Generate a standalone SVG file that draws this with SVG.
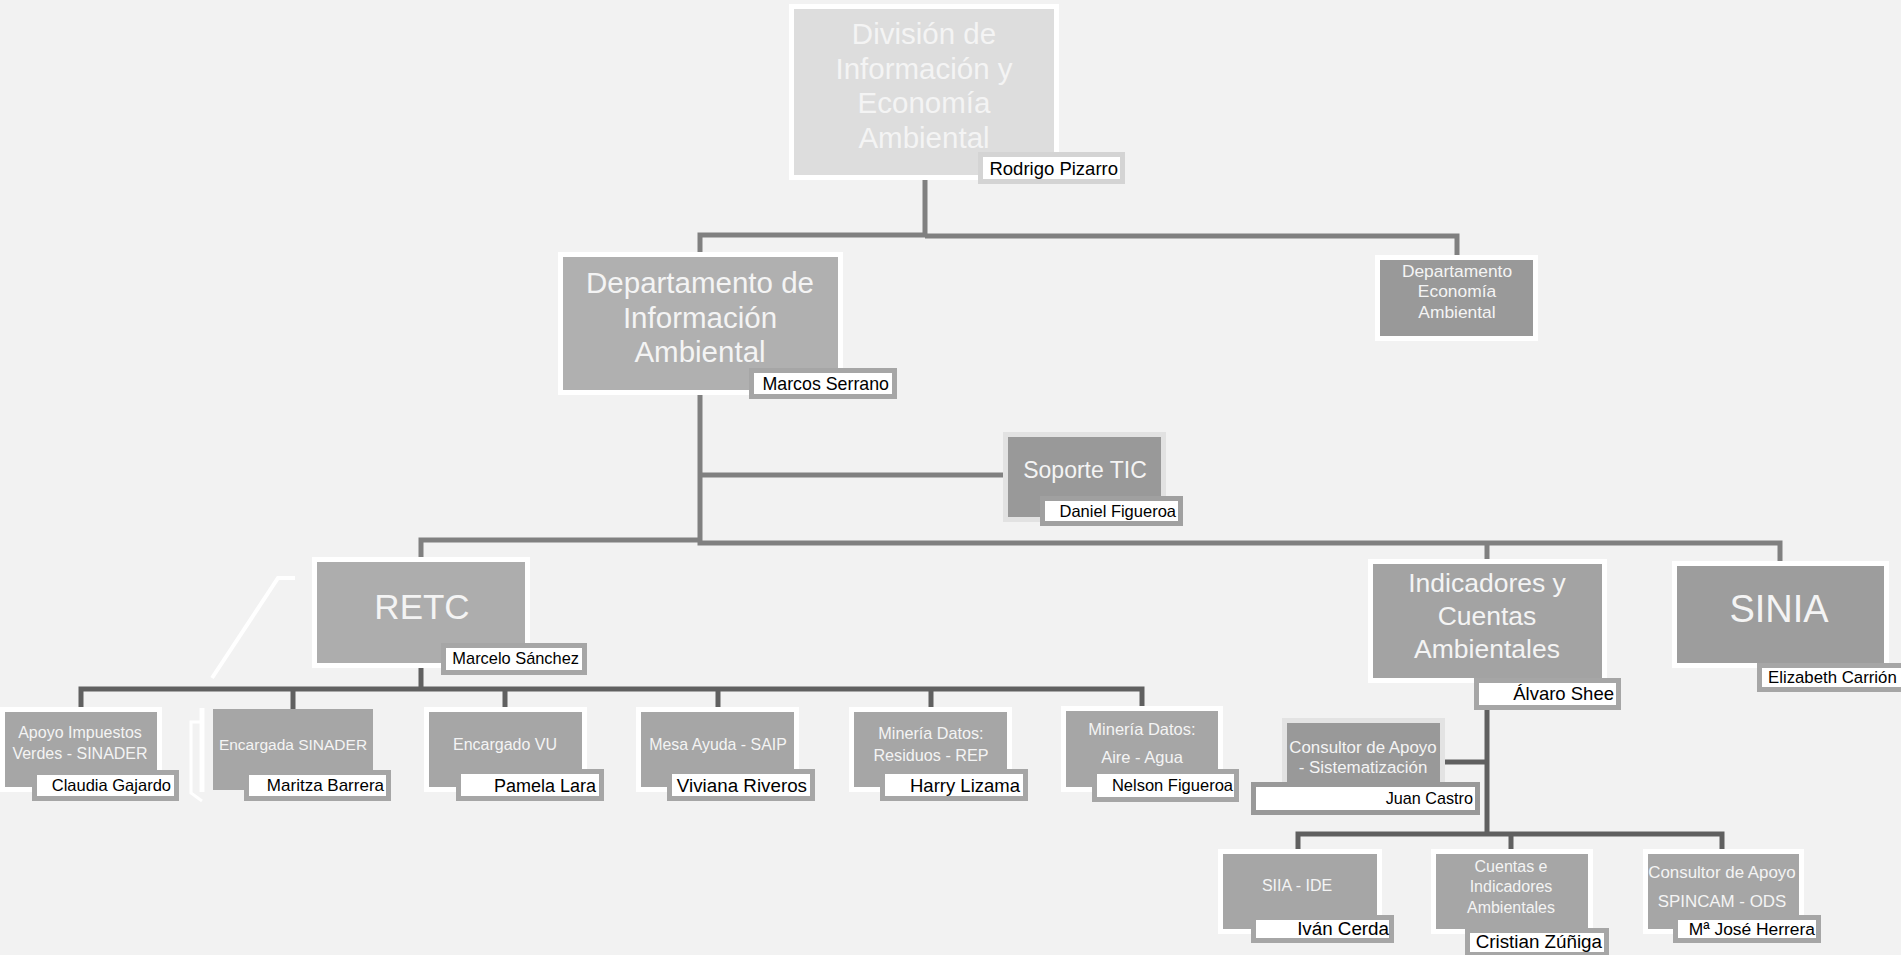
<svg xmlns="http://www.w3.org/2000/svg" width="1901" height="955" viewBox="0 0 1901 955">
<style>
text{font-family:"Liberation Sans",Arial,sans-serif}
.t{fill:#f4f4f4;text-anchor:middle}
.n{fill:#000;text-anchor:end}
.box{stroke:#fff;stroke-width:5}
.nb{fill:#fff;stroke:#a6a6a6;stroke-width:5}
.c1{fill:none;stroke:#808080;stroke-width:5}
.c2{fill:none;stroke:#606060;stroke-width:5}
.leaf{fill:#a6a6a6}
</style>
<rect width="1901" height="955" fill="#f2f2f2"/>
<g id="connectors">
<path class="c1" d="M925,179 V235 H700 V253 M925,236 H1457 V256"/>
<path class="c1" d="M700,395 V543 H1487 V560 M1487,543 H1780 V562 M700,540 H421 V558 M700,475 H1004"/>
<path class="c2" d="M421,668 V689 M81,708 V689 H1142 V708 M293,689 V709 M505,689 V708 M718,689 V708 M931,689 V708"/>
<path class="c2" d="M1487,710 V834 M1445,762 H1487 M1298,850 V834 H1722 V850 M1511,834 V850"/>
</g>
<g id="division">
<rect class="box" x="791.5" y="6.5" width="265" height="171" fill="#dddddd"/>
<g class="t" font-size="29.5"><text x="924" y="44">División de</text><text x="924" y="79">Información y</text><text x="924" y="113">Economía</text><text x="924" y="148">Ambiental</text></g>
<rect class="nb" x="980.5" y="154.5" width="142" height="27" style="stroke:#d4d4d4"/>
<text class="n" x="1118" y="175" font-size="18.5">Rodrigo Pizarro</text>
</g>
<g id="dep-info">
<rect class="box" x="560.5" y="254.5" width="280" height="138" fill="#b0b0b0"/>
<g class="t" font-size="29.5"><text x="700" y="293">Departamento de</text><text x="700" y="328">Información</text><text x="700" y="362">Ambiental</text></g>
<rect class="nb" x="751.5" y="370.5" width="143" height="26"/>
<text class="n" x="889" y="390" font-size="17.8">Marcos Serrano</text>
</g>
<g id="dep-economia">
<rect class="box" x="1377.5" y="257.5" width="158" height="81" fill="#999"/>
<g class="t" font-size="17.4"><text x="1457" y="277">Departamento</text><text x="1457" y="297">Economía</text><text x="1457" y="318">Ambiental</text></g>
</g>
<g id="soporte-tic">
<rect x="1005.5" y="434.5" width="158" height="85" fill="#999" stroke="#e2e2e2" stroke-width="5"/>
<text class="t" x="1085" y="478" font-size="23">Soporte TIC</text>
<rect class="nb" x="1042.5" y="498.5" width="138" height="25" style="stroke:#a0a0a0"/>
<text class="n" x="1176" y="517" font-size="16.5">Daniel Figueroa</text>
</g>
<g id="retc">
<rect class="box" x="314.5" y="559.5" width="213" height="106" fill="#adadad"/>
<text class="t" x="422" y="619" font-size="35">RETC</text>
<rect class="nb" x="443.5" y="645.5" width="141" height="27"/>
<text class="n" x="579" y="664" font-size="16.4">Marcelo Sánchez</text>
</g>
<g id="indicadores">
<rect class="box" x="1370.5" y="561.5" width="234" height="119" fill="#a3a3a3"/>
<g class="t" font-size="26.5"><text x="1487" y="592">Indicadores y</text><text x="1487" y="625">Cuentas</text><text x="1487" y="658">Ambientales</text></g>
<rect class="nb" x="1476.5" y="680.5" width="142" height="27"/>
<text class="n" x="1614" y="700" font-size="18.5">Álvaro Shee</text>
</g>
<g id="sinia">
<rect class="box" x="1674.5" y="563.5" width="212" height="102" fill="#9d9d9d"/>
<text class="t" x="1779" y="622" font-size="38">SINIA</text>
<rect class="nb" x="1759.5" y="665.5" width="145" height="24"/>
<text x="1768" y="683" font-size="16.8">Elizabeth Carrión</text>
</g>
<g id="decor" fill="none" stroke="#fff">
<path d="M212,678 L278,578 H295" stroke-width="4"/>
<path d="M202,708 V792" stroke-width="5"/>
<path d="M200,722 H191 V793 L202,801" stroke-width="3"/>
</g>
<g id="apoyo-impuestos">
<rect class="box leaf" x="2.5" y="709.5" width="157" height="80"/>
<g class="t" font-size="16"><text x="80" y="738">Apoyo Impuestos</text><text x="80" y="759">Verdes - SINADER</text></g>
<rect class="nb" x="34.5" y="772.5" width="142" height="26"/>
<text class="n" x="171" y="791" font-size="16.5">Claudia Gajardo</text>
</g>
<g id="encargada-sinader">
<rect class="leaf" x="213" y="709" width="160" height="81"/>
<text class="t" x="293" y="750" font-size="15.5">Encargada SINADER</text>
<rect class="nb" x="246.5" y="772.5" width="142" height="26"/>
<text class="n" x="384" y="791" font-size="17">Maritza Barrera</text>
</g>
<g id="encargado-vu">
<rect class="box leaf" x="426.5" y="709.5" width="158" height="80"/>
<text class="t" x="505" y="750" font-size="16">Encargado VU</text>
<rect class="nb" x="458.5" y="771.5" width="143" height="27"/>
<text class="n" x="596" y="792" font-size="18">Pamela Lara</text>
</g>
<g id="mesa-ayuda">
<rect class="box leaf" x="638.5" y="709.5" width="158" height="80"/>
<text class="t" x="718" y="750" font-size="15.9">Mesa Ayuda - SAIP</text>
<rect class="nb" x="669.5" y="771.5" width="143" height="27"/>
<text class="n" x="807" y="792" font-size="18.8">Viviana Riveros</text>
</g>
<g id="mineria-rep">
<rect class="box leaf" x="851.5" y="709.5" width="158" height="80"/>
<g class="t" font-size="16.2"><text x="931" y="739">Minería Datos:</text><text x="931" y="761">Residuos - REP</text></g>
<rect class="nb" x="882.5" y="771.5" width="143" height="27"/>
<text class="n" x="1020" y="792" font-size="18.5">Harry Lizama</text>
</g>
<g id="mineria-aire">
<rect class="box leaf" x="1063.5" y="708.5" width="157" height="81"/>
<g class="t" font-size="16.5"><text x="1142" y="735">Minería Datos:</text><text x="1142" y="763">Aire - Agua</text></g>
<rect class="nb" x="1094.5" y="771.5" width="142" height="28"/>
<text class="n" x="1233" y="791" font-size="16.5">Nelson Figueroa</text>
</g>
<g id="consultor-sistematizacion">
<rect x="1284.5" y="720.5" width="158" height="77" fill="#999" stroke="#e3e3e3" stroke-width="5"/>
<g class="t" font-size="16.9"><text x="1363" y="753">Consultor de Apoyo</text><text x="1363" y="773">- Sistematización</text></g>
<rect class="nb" x="1253.5" y="784.5" width="224" height="28" style="stroke:#999"/>
<text class="n" x="1473" y="804" font-size="16.2">Juan Castro</text>
</g>
<g id="siia-ide">
<rect class="box leaf" x="1220.5" y="851.5" width="159" height="80"/>
<text class="t" x="1297" y="891" font-size="16">SIIA - IDE</text>
<rect class="nb" x="1253.5" y="917.5" width="138" height="23"/>
<text class="n" x="1389" y="935" font-size="18.8">Iván Cerda</text>
</g>
<g id="cuentas-indicadores">
<rect class="box leaf" x="1433.5" y="851.5" width="157" height="80"/>
<g class="t" font-size="16"><text x="1511" y="872">Cuentas e</text><text x="1511" y="892">Indicadores</text><text x="1511" y="913">Ambientales</text></g>
<rect class="nb" x="1467.5" y="930.5" width="139" height="24"/>
<text class="n" x="1602" y="948" font-size="18.8">Cristian Zúñiga</text>
</g>
<g id="consultor-spincam">
<rect class="box leaf" x="1645.5" y="851.5" width="156" height="80"/>
<g class="t" font-size="16.9"><text x="1722" y="878">Consultor de Apoyo</text><text x="1722" y="907">SPINCAM - ODS</text></g>
<rect class="nb" x="1675.5" y="917.5" width="143" height="23"/>
<text class="n" x="1815" y="935" font-size="17.4">Mª José Herrera</text>
</g>
</svg>
